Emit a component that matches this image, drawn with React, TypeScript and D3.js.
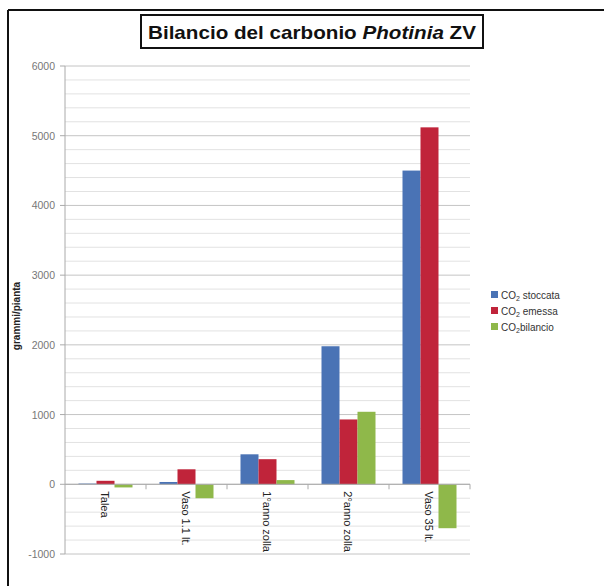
import React from "react";
import * as d3 from "d3";

const categories = ["Talea", "Vaso 1.1 lt.", "1°anno zolla", "2°anno zolla", "Vaso 35 lt."];
const stoccata = [10, 33, 430, 1980, 4500];
const emessa = [50, 215, 360, 930, 5120];
const bilancio = [-45, -200, 60, 1040, -630];
const yTicks = [-1000, 0, 1000, 2000, 3000, 4000, 5000, 6000];
const seriesNames = ["stoccata", "emessa", "bilancio"];
const seriesColors = ["#4a73b5", "#c0243a", "#8fb84a"];

const W = 604, H = 586;
const left = 65, right = 470, top = 66, bottom = 554;

export default function App() {
  const series = [stoccata, emessa, bilancio];
  const y = d3.scaleLinear().domain([-1000, 6000]).range([bottom, top]);
  const x = d3.scaleBand().domain(categories).range([left, right]).paddingInner(0).paddingOuter(0);
  const inner = d3.scaleBand().domain(seriesNames).range([0, x.bandwidth()]).paddingOuter(0.75).paddingInner(0);
  const minor = d3.range(-1000, 6001, 200).filter((v) => v % 1000 !== 0);
  const font = "'Liberation Sans', Arial, sans-serif";
  return (
    <svg width={W} height={H} style={{ position: "absolute", left: 0, top: 0, background: "#fff" }}>
      <rect x={0} y={0} width={W} height={H} fill="#fff" />
      <line x1={8} y1={10} x2={W} y2={10} stroke="#111" strokeWidth={2} />
      <line x1={8} y1={10} x2={8} y2={H} stroke="#111" strokeWidth={2} />
      <rect x={141} y={15} width={342} height={33} fill="#fff" stroke="#111" strokeWidth={2} />
      <text x={312} y={39} textAnchor="middle" fontFamily={font} fontWeight="bold" fontSize={19} fill="#111" textLength={328} lengthAdjust="spacingAndGlyphs">
        Bilancio del carbonio <tspan fontStyle="italic">Photinia</tspan> ZV
      </text>
      {minor.map((v) => (
        <line key={"m" + v} x1={left} x2={right} y1={y(v)} y2={y(v)} stroke="#e2e2e2" strokeWidth={1} />
      ))}
      {yTicks.map((v) => (
        <g key={"t" + v}>
          <line x1={left} x2={right} y1={y(v)} y2={y(v)} stroke="#c4c4c4" strokeWidth={1} />
          <line x1={left - 5} x2={left} y1={y(v)} y2={y(v)} stroke="#aaa" strokeWidth={1} />
          <text x={55} y={y(v) + 4} textAnchor="end" fontFamily={font} fontSize={10.5} fill="#777">{v}</text>
        </g>
      ))}
      <line x1={left} x2={left} y1={top} y2={bottom} stroke="#aaa" strokeWidth={1} />
      {categories.map((c, i) =>
        series.map((s, j) => {
          const v = s[i];
          const y0 = y(0), y1 = y(v);
          return (
            <rect key={c + j} x={(x(c) as number) + (inner(seriesNames[j]) as number)} width={inner.bandwidth()}
              y={Math.min(y0, y1)} height={Math.abs(y1 - y0)} fill={seriesColors[j]} />
          );
        })
      )}
      <line x1={left} x2={right} y1={y(0)} y2={y(0)} stroke="#aaa" strokeWidth={1} />
      {categories.map((c, i) => (
        <line key={"xt" + i} x1={(x(c) as number) + x.bandwidth()} x2={(x(c) as number) + x.bandwidth()} y1={y(0)} y2={y(0) + 5} stroke="#aaa" />
      ))}
      {categories.map((c) => {
        const cx = (x(c) as number) + x.bandwidth() / 2 - 2;
        return (
          <text key={"xl" + c} transform={`translate(${cx},${y(0) + 7}) rotate(90)`} fontFamily={font} fontSize={11} fill="#222" dominantBaseline="middle">{c}</text>
        );
      })}
      <text transform={`translate(20,${(top + bottom) / 2 + 6}) rotate(-90)`} textAnchor="middle" fontFamily={font} fontWeight="bold" fontSize={10} fill="#222">grammi/pianta</text>
      {seriesNames.map((n, j) => (
        <g key={"lg" + n} transform={`translate(491,${295 + j * 16})`}>
          <rect x={0} y={-4} width={7} height={7} fill={seriesColors[j]} />
          <text x={10} y={3.5} fontFamily={font} fontSize={10} fill="#333">
            CO<tspan fontSize={7} dy={2}>2</tspan><tspan dy={-2}>{n === "bilancio" ? "bilancio" : " " + n}</tspan>
          </text>
        </g>
      ))}
    </svg>
  );
}
